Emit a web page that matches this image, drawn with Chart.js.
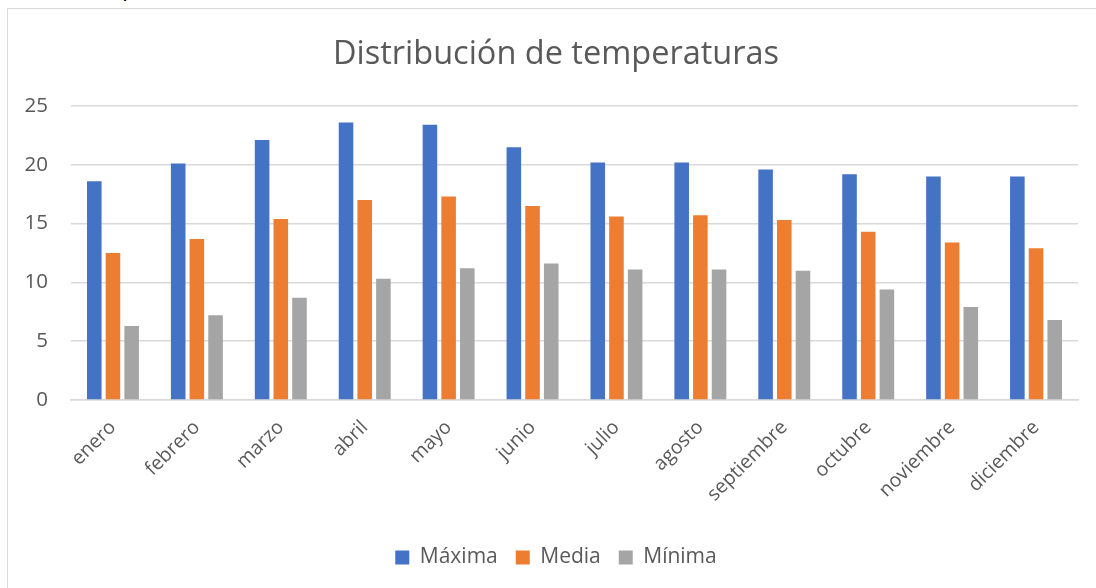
<!DOCTYPE html>
<html>
<head>
<meta charset="utf-8">
<script src="https://cdn.jsdelivr.net/npm/chart.js@4"></script>
<style>
  html, body { margin:0; padding:0; background:#fff; overflow:hidden; }
  #frame { position:absolute; left:7px; top:8px; width:1110px; height:600px; border:1.5px solid #d9d9d9; box-sizing:border-box; }
  #wrap { position:absolute; left:0; top:0; width:1112px; height:588px; }
  #cut { position:absolute; left:122px; top:-31px; font:24px "Open Sans", sans-serif; color:#000; }
</style>
</head>
<body>
<div id="cut">p</div>
<div id="frame"></div>
<div id="wrap"><canvas id="chart"></canvas></div>
<script>
const months = ["enero","febrero","marzo","abril","mayo","junio","julio","agosto","septiembre","octubre","noviembre","diciembre"];
const maxima = [18.6,20.1,22.1,23.6,23.4,21.5,20.2,20.2,19.6,19.2,19.0,19.0];
const media  = [12.5,13.7,15.4,17.0,17.3,16.5,15.6,15.7,15.3,14.3,13.4,12.9];
const minima = [6.3,7.2,8.7,10.3,11.2,11.6,11.1,11.1,11.0,9.4,7.9,6.8];
const yTicks = [0,5,10,15,20,25];

const textColor = "#595959";
const font = "'Open Sans', sans-serif";

function makeDataset(label, data, color){
  return {
    label: label,
    data: data,
    backgroundColor: color,
    categoryPercentage: 0.668,
    barPercentage: 0.78
  };
}

const ctx = document.getElementById("chart").getContext("2d");
new Chart(ctx, {
  type: "bar",
  data: {
    labels: months,
    datasets: [
      makeDataset("Máxima", maxima, "#4472C4"),
      makeDataset("Media", media, "#ED7D31"),
      makeDataset("Mínima", minima, "#A5A5A5")
    ]
  },
  options: {
    responsive: true,
    maintainAspectRatio: false,
    animation: false,
    layout: { padding: { left: 0, right: 0, top: 0, bottom: 10 } },
    plugins: {
      title: {
        display: true,
        text: "Distribución de temperaturas",
        color: textColor,
        font: { family: font, size: 32.5, weight: "normal" },
        padding: { top: 35, bottom: 32 }
      },
      legend: {
        position: "bottom",
        labels: {
          color: textColor,
          font: { family: font, size: 21 },
          boxWidth: 14,
          boxHeight: 14,
          padding: 18
        }
      },
      tooltip: { enabled: false }
    },
    scales: {
      x: {
        grid: { display: false },
        border: { color: "#d9d9d9", width: 1.5 },
        ticks: {
          color: textColor,
          font: { family: font, size: 19.5 },
          minRotation: 45,
          maxRotation: 45,
          padding: 8,
          autoSkip: false
        },
        afterFit: scale => { scale.height = 129; }
      },
      y: {
        min: yTicks[0],
        max: yTicks[yTicks.length-1],
        afterBuildTicks: scale => { scale.ticks = yTicks.map(v => ({ value: v })); },
        grid: { color: "#d9d9d9", lineWidth: 1.5, drawTicks: false },
        border: { display: false },
        ticks: {
          color: textColor,
          font: { family: font, size: 20.5 },
          padding: 23
        },
        afterFit: scale => { scale.width = 71; }
      },
      // empty right margin so the plot ends where the reference's does
      yRight: {
        position: "right",
        grid: { display: false },
        border: { display: false },
        ticks: { display: false },
        afterFit: scale => { scale.width = 34; }
      }
    }
  }
});
</script>
</body>
</html>
